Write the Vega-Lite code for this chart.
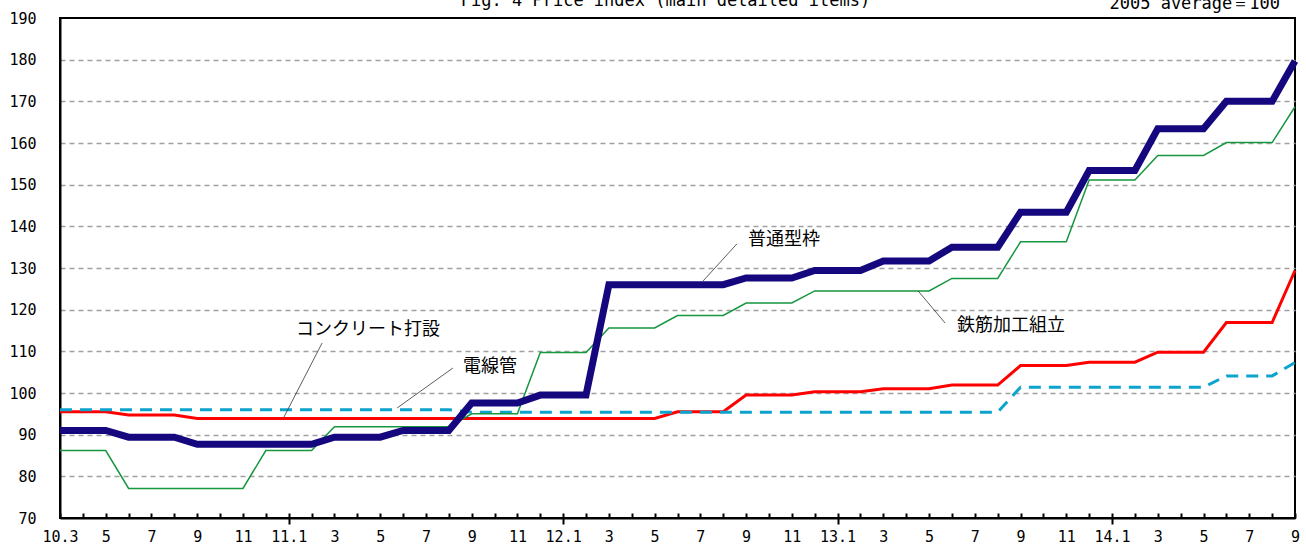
{
  "$schema": "https://vega.github.io/schema/vega-lite/v6.json",
  "width": 1235,
  "height": 500,
  "autosize": {"type": "none"},
  "padding": {"left": 60, "top": 18, "right": 11, "bottom": 30},
  "background": "white",
  "config": {
    "view": {"stroke": "black", "strokeWidth": 2},
    "axis": {"labelColor": "black", "titleColor": "black"}
  },
  "datasets": {
    "lines": [
      {"series": "普通型枠", "t": 0, "v": 91}, {"series": "普通型枠", "t": 1, "v": 91}, {"series": "普通型枠", "t": 2, "v": 91},
      {"series": "普通型枠", "t": 3, "v": 89.4}, {"series": "普通型枠", "t": 4, "v": 89.4}, {"series": "普通型枠", "t": 5, "v": 89.4},
      {"series": "普通型枠", "t": 6, "v": 87.7}, {"series": "普通型枠", "t": 7, "v": 87.7}, {"series": "普通型枠", "t": 8, "v": 87.7},
      {"series": "普通型枠", "t": 9, "v": 87.7}, {"series": "普通型枠", "t": 10, "v": 87.7}, {"series": "普通型枠", "t": 11, "v": 87.7},
      {"series": "普通型枠", "t": 12, "v": 89.4}, {"series": "普通型枠", "t": 13, "v": 89.4}, {"series": "普通型枠", "t": 14, "v": 89.4},
      {"series": "普通型枠", "t": 15, "v": 91}, {"series": "普通型枠", "t": 16, "v": 91}, {"series": "普通型枠", "t": 17, "v": 91},
      {"series": "普通型枠", "t": 18, "v": 97.6}, {"series": "普通型枠", "t": 19, "v": 97.6}, {"series": "普通型枠", "t": 20, "v": 97.6},
      {"series": "普通型枠", "t": 21, "v": 99.5}, {"series": "普通型枠", "t": 22, "v": 99.5}, {"series": "普通型枠", "t": 23, "v": 99.5},
      {"series": "普通型枠", "t": 24, "v": 126}, {"series": "普通型枠", "t": 25, "v": 126}, {"series": "普通型枠", "t": 26, "v": 126},
      {"series": "普通型枠", "t": 27, "v": 126}, {"series": "普通型枠", "t": 28, "v": 126}, {"series": "普通型枠", "t": 29, "v": 126},
      {"series": "普通型枠", "t": 30, "v": 127.6}, {"series": "普通型枠", "t": 31, "v": 127.6}, {"series": "普通型枠", "t": 32, "v": 127.6},
      {"series": "普通型枠", "t": 33, "v": 129.4}, {"series": "普通型枠", "t": 34, "v": 129.4}, {"series": "普通型枠", "t": 35, "v": 129.4},
      {"series": "普通型枠", "t": 36, "v": 131.7}, {"series": "普通型枠", "t": 37, "v": 131.7}, {"series": "普通型枠", "t": 38, "v": 131.7},
      {"series": "普通型枠", "t": 39, "v": 135}, {"series": "普通型枠", "t": 40, "v": 135}, {"series": "普通型枠", "t": 41, "v": 135},
      {"series": "普通型枠", "t": 42, "v": 143.4}, {"series": "普通型枠", "t": 43, "v": 143.4}, {"series": "普通型枠", "t": 44, "v": 143.4},
      {"series": "普通型枠", "t": 45, "v": 153.4}, {"series": "普通型枠", "t": 46, "v": 153.4}, {"series": "普通型枠", "t": 47, "v": 153.4},
      {"series": "普通型枠", "t": 48, "v": 163.4}, {"series": "普通型枠", "t": 49, "v": 163.4}, {"series": "普通型枠", "t": 50, "v": 163.4},
      {"series": "普通型枠", "t": 51, "v": 170}, {"series": "普通型枠", "t": 52, "v": 170}, {"series": "普通型枠", "t": 53, "v": 170},
      {"series": "普通型枠", "t": 54, "v": 179.7},

      {"series": "鉄筋加工組立", "t": 0, "v": 86.2}, {"series": "鉄筋加工組立", "t": 1, "v": 86.2}, {"series": "鉄筋加工組立", "t": 2, "v": 86.2},
      {"series": "鉄筋加工組立", "t": 3, "v": 77.1}, {"series": "鉄筋加工組立", "t": 4, "v": 77.1}, {"series": "鉄筋加工組立", "t": 5, "v": 77.1},
      {"series": "鉄筋加工組立", "t": 6, "v": 77.1}, {"series": "鉄筋加工組立", "t": 7, "v": 77.1}, {"series": "鉄筋加工組立", "t": 8, "v": 77.1},
      {"series": "鉄筋加工組立", "t": 9, "v": 86.2}, {"series": "鉄筋加工組立", "t": 10, "v": 86.2}, {"series": "鉄筋加工組立", "t": 11, "v": 86.2},
      {"series": "鉄筋加工組立", "t": 12, "v": 91.9}, {"series": "鉄筋加工組立", "t": 13, "v": 91.9}, {"series": "鉄筋加工組立", "t": 14, "v": 91.9},
      {"series": "鉄筋加工組立", "t": 15, "v": 91.9}, {"series": "鉄筋加工組立", "t": 16, "v": 91.9}, {"series": "鉄筋加工組立", "t": 17, "v": 91.9},
      {"series": "鉄筋加工組立", "t": 18, "v": 95}, {"series": "鉄筋加工組立", "t": 19, "v": 95}, {"series": "鉄筋加工組立", "t": 20, "v": 95},
      {"series": "鉄筋加工組立", "t": 21, "v": 109.7}, {"series": "鉄筋加工組立", "t": 22, "v": 109.7}, {"series": "鉄筋加工組立", "t": 23, "v": 109.7},
      {"series": "鉄筋加工組立", "t": 24, "v": 115.6}, {"series": "鉄筋加工組立", "t": 25, "v": 115.6}, {"series": "鉄筋加工組立", "t": 26, "v": 115.6},
      {"series": "鉄筋加工組立", "t": 27, "v": 118.6}, {"series": "鉄筋加工組立", "t": 28, "v": 118.6}, {"series": "鉄筋加工組立", "t": 29, "v": 118.6},
      {"series": "鉄筋加工組立", "t": 30, "v": 121.6}, {"series": "鉄筋加工組立", "t": 31, "v": 121.6}, {"series": "鉄筋加工組立", "t": 32, "v": 121.6},
      {"series": "鉄筋加工組立", "t": 33, "v": 124.5}, {"series": "鉄筋加工組立", "t": 34, "v": 124.5}, {"series": "鉄筋加工組立", "t": 35, "v": 124.5},
      {"series": "鉄筋加工組立", "t": 36, "v": 124.5}, {"series": "鉄筋加工組立", "t": 37, "v": 124.5}, {"series": "鉄筋加工組立", "t": 38, "v": 124.5},
      {"series": "鉄筋加工組立", "t": 39, "v": 127.5}, {"series": "鉄筋加工組立", "t": 40, "v": 127.5}, {"series": "鉄筋加工組立", "t": 41, "v": 127.5},
      {"series": "鉄筋加工組立", "t": 42, "v": 136.3}, {"series": "鉄筋加工組立", "t": 43, "v": 136.3}, {"series": "鉄筋加工組立", "t": 44, "v": 136.3},
      {"series": "鉄筋加工組立", "t": 45, "v": 151.1}, {"series": "鉄筋加工組立", "t": 46, "v": 151.1}, {"series": "鉄筋加工組立", "t": 47, "v": 151.1},
      {"series": "鉄筋加工組立", "t": 48, "v": 157}, {"series": "鉄筋加工組立", "t": 49, "v": 157}, {"series": "鉄筋加工組立", "t": 50, "v": 157},
      {"series": "鉄筋加工組立", "t": 51, "v": 160.1}, {"series": "鉄筋加工組立", "t": 52, "v": 160.1}, {"series": "鉄筋加工組立", "t": 53, "v": 160.1},
      {"series": "鉄筋加工組立", "t": 54, "v": 168.7},

      {"series": "コンクリート打設", "t": 0, "v": 95.5}, {"series": "コンクリート打設", "t": 1, "v": 95.5}, {"series": "コンクリート打設", "t": 2, "v": 95.5},
      {"series": "コンクリート打設", "t": 3, "v": 94.7}, {"series": "コンクリート打設", "t": 4, "v": 94.7}, {"series": "コンクリート打設", "t": 5, "v": 94.7},
      {"series": "コンクリート打設", "t": 6, "v": 93.9}, {"series": "コンクリート打設", "t": 7, "v": 93.9}, {"series": "コンクリート打設", "t": 8, "v": 93.9},
      {"series": "コンクリート打設", "t": 9, "v": 93.9}, {"series": "コンクリート打設", "t": 10, "v": 93.9}, {"series": "コンクリート打設", "t": 11, "v": 93.9},
      {"series": "コンクリート打設", "t": 12, "v": 93.9}, {"series": "コンクリート打設", "t": 13, "v": 93.9}, {"series": "コンクリート打設", "t": 14, "v": 93.9},
      {"series": "コンクリート打設", "t": 15, "v": 93.9}, {"series": "コンクリート打設", "t": 16, "v": 93.9}, {"series": "コンクリート打設", "t": 17, "v": 93.9},
      {"series": "コンクリート打設", "t": 18, "v": 93.9}, {"series": "コンクリート打設", "t": 19, "v": 93.9}, {"series": "コンクリート打設", "t": 20, "v": 93.9},
      {"series": "コンクリート打設", "t": 21, "v": 93.9}, {"series": "コンクリート打設", "t": 22, "v": 93.9}, {"series": "コンクリート打設", "t": 23, "v": 93.9},
      {"series": "コンクリート打設", "t": 24, "v": 93.9}, {"series": "コンクリート打設", "t": 25, "v": 93.9}, {"series": "コンクリート打設", "t": 26, "v": 93.9},
      {"series": "コンクリート打設", "t": 27, "v": 95.5}, {"series": "コンクリート打設", "t": 28, "v": 95.5}, {"series": "コンクリート打設", "t": 29, "v": 95.5},
      {"series": "コンクリート打設", "t": 30, "v": 99.5}, {"series": "コンクリート打設", "t": 31, "v": 99.5}, {"series": "コンクリート打設", "t": 32, "v": 99.5},
      {"series": "コンクリート打設", "t": 33, "v": 100.3}, {"series": "コンクリート打設", "t": 34, "v": 100.3}, {"series": "コンクリート打設", "t": 35, "v": 100.3},
      {"series": "コンクリート打設", "t": 36, "v": 101}, {"series": "コンクリート打設", "t": 37, "v": 101}, {"series": "コンクリート打設", "t": 38, "v": 101},
      {"series": "コンクリート打設", "t": 39, "v": 101.9}, {"series": "コンクリート打設", "t": 40, "v": 101.9}, {"series": "コンクリート打設", "t": 41, "v": 101.9},
      {"series": "コンクリート打設", "t": 42, "v": 106.6}, {"series": "コンクリート打設", "t": 43, "v": 106.6}, {"series": "コンクリート打設", "t": 44, "v": 106.6},
      {"series": "コンクリート打設", "t": 45, "v": 107.4}, {"series": "コンクリート打設", "t": 46, "v": 107.4}, {"series": "コンクリート打設", "t": 47, "v": 107.4},
      {"series": "コンクリート打設", "t": 48, "v": 109.8}, {"series": "コンクリート打設", "t": 49, "v": 109.8}, {"series": "コンクリート打設", "t": 50, "v": 109.8},
      {"series": "コンクリート打設", "t": 51, "v": 116.9}, {"series": "コンクリート打設", "t": 52, "v": 116.9}, {"series": "コンクリート打設", "t": 53, "v": 116.9},
      {"series": "コンクリート打設", "t": 54, "v": 129.4},

      {"series": "電線管", "t": 0, "v": 96}, {"series": "電線管", "t": 1, "v": 96}, {"series": "電線管", "t": 2, "v": 96},
      {"series": "電線管", "t": 3, "v": 96}, {"series": "電線管", "t": 4, "v": 96}, {"series": "電線管", "t": 5, "v": 96},
      {"series": "電線管", "t": 6, "v": 96}, {"series": "電線管", "t": 7, "v": 96}, {"series": "電線管", "t": 8, "v": 96},
      {"series": "電線管", "t": 9, "v": 96}, {"series": "電線管", "t": 10, "v": 96}, {"series": "電線管", "t": 11, "v": 96},
      {"series": "電線管", "t": 12, "v": 96}, {"series": "電線管", "t": 13, "v": 96}, {"series": "電線管", "t": 14, "v": 96},
      {"series": "電線管", "t": 15, "v": 96}, {"series": "電線管", "t": 16, "v": 96}, {"series": "電線管", "t": 17, "v": 96},
      {"series": "電線管", "t": 18, "v": 95.4}, {"series": "電線管", "t": 19, "v": 95.4}, {"series": "電線管", "t": 20, "v": 95.4},
      {"series": "電線管", "t": 21, "v": 95.4}, {"series": "電線管", "t": 22, "v": 95.4}, {"series": "電線管", "t": 23, "v": 95.4},
      {"series": "電線管", "t": 24, "v": 95.4}, {"series": "電線管", "t": 25, "v": 95.4}, {"series": "電線管", "t": 26, "v": 95.4},
      {"series": "電線管", "t": 27, "v": 95.4}, {"series": "電線管", "t": 28, "v": 95.4}, {"series": "電線管", "t": 29, "v": 95.4},
      {"series": "電線管", "t": 30, "v": 95.4}, {"series": "電線管", "t": 31, "v": 95.4}, {"series": "電線管", "t": 32, "v": 95.4},
      {"series": "電線管", "t": 33, "v": 95.4}, {"series": "電線管", "t": 34, "v": 95.4}, {"series": "電線管", "t": 35, "v": 95.4},
      {"series": "電線管", "t": 36, "v": 95.4}, {"series": "電線管", "t": 37, "v": 95.4}, {"series": "電線管", "t": 38, "v": 95.4},
      {"series": "電線管", "t": 39, "v": 95.4}, {"series": "電線管", "t": 40, "v": 95.4}, {"series": "電線管", "t": 41, "v": 95.4},
      {"series": "電線管", "t": 42, "v": 101.4}, {"series": "電線管", "t": 43, "v": 101.4}, {"series": "電線管", "t": 44, "v": 101.4},
      {"series": "電線管", "t": 45, "v": 101.4}, {"series": "電線管", "t": 46, "v": 101.4}, {"series": "電線管", "t": 47, "v": 101.4},
      {"series": "電線管", "t": 48, "v": 101.4}, {"series": "電線管", "t": 49, "v": 101.4}, {"series": "電線管", "t": 50, "v": 101.4},
      {"series": "電線管", "t": 51, "v": 104.1}, {"series": "電線管", "t": 52, "v": 104.1}, {"series": "電線管", "t": 53, "v": 104.1},
      {"series": "電線管", "t": 54, "v": 107.3}
    ],
    "labels": [
      {"label": "コンクリート打設", "t": 13.47, "v": 115.1},
      {"label": "電線管", "t": 18.8, "v": 106.2},
      {"label": "普通型枠", "t": 31.66, "v": 136.7},
      {"label": "鉄筋加工組立", "t": 41.58, "v": 116.1}
    ],
    "leaders": [
      {"label": "コンクリート打設", "t1": 11.46, "v1": 112.0, "t2": 9.79, "v2": 94.2},
      {"label": "電線管", "t1": 17.18, "v1": 106.0, "t2": 14.74, "v2": 96.4},
      {"label": "普通型枠", "t1": 29.6, "v1": 135.8, "t2": 28.12, "v2": 126.9},
      {"label": "鉄筋加工組立", "t1": 37.52, "v1": 124.5, "t2": 38.7, "v2": 116.8}
    ],
    "note": [
      {"label": "2005 average＝100", "t": 54, "v": 190}
    ],
    "heading": [
      {"label": "Fig. 4 Price index (main detailed items)", "t": 27, "v": 190}
    ]
  },
  "resolve": {"axis": {"x": "independent", "y": "independent"}},
  "layer": [
    {
      "data": {"name": "lines"},
      "transform": [{"filter": "datum.series == 'コンクリート打設'"}],
      "mark": {"type": "line", "color": "#ff0000", "strokeWidth": 3, "strokeJoin": "miter"},
      "encoding": {
        "x": {
          "field": "t", "type": "quantitative",
          "scale": {"domain": [0, 54], "nice": false, "zero": false},
          "axis": {
            "orient": "bottom",
            "title": null,
            "values": [0, 2, 4, 6, 8, 10, 12, 14, 16, 18, 20, 22, 24, 26, 28, 30, 32, 34, 36, 38, 40, 42, 44, 46, 48, 50, 52, 54],
            "labelExpr": "datum.value == 0 ? '10.3' : ((datum.value + 2) % 12 == 0 ? (10 + floor((datum.value + 2) / 12)) + '.1' : ((datum.value + 2) % 12 + 1) + '')",
            "ticks": false,
            "grid": false,
            "domain": true,
            "domainColor": "black",
            "domainWidth": 2,
            "labelFont": "DejaVu Sans Mono",
            "labelFontSize": 15,
            "labelPadding": 11,
            "labelFlush": false,
            "labelOverlap": false
          }
        },
        "y": {
          "field": "v", "type": "quantitative",
          "scale": {"domain": [70, 190], "nice": false, "zero": false},
          "axis": {
            "orient": "left",
            "title": null,
            "values": [70, 80, 90, 100, 110, 120, 130, 140, 150, 160, 170, 180, 190],
            "ticks": false,
            "grid": true,
            "gridColor": "#a0a0a0",
            "gridDash": [5, 4],
            "gridWidth": 1.5,
            "gridOpacity": {"condition": {"test": "datum.value == 70 || datum.value == 190", "value": 0}, "value": 1},
            "domain": true,
            "domainColor": "black",
            "domainWidth": 2,
            "labelFont": "DejaVu Sans Mono",
            "labelFontSize": 15,
            "labelPadding": 24,
            "labelFlush": false,
            "labelOverlap": false
          }
        }
      }
    },
    {
      "data": {"name": "lines"},
      "transform": [{"filter": "datum.series == '電線管'"}],
      "mark": {"type": "line", "color": "#0ca3cc", "strokeWidth": 3, "strokeDash": [12, 8]},
      "encoding": {
        "x": {"field": "t", "type": "quantitative", "axis": null},
        "y": {"field": "v", "type": "quantitative", "axis": null}
      }
    },
    {
      "data": {"name": "lines"},
      "transform": [{"filter": "datum.series == '鉄筋加工組立'"}],
      "mark": {"type": "line", "color": "#15963f", "strokeWidth": 1.5},
      "encoding": {
        "x": {"field": "t", "type": "quantitative", "axis": null},
        "y": {"field": "v", "type": "quantitative", "axis": null}
      }
    },
    {
      "data": {"name": "lines"},
      "transform": [{"filter": "datum.series == '普通型枠'"}],
      "mark": {"type": "line", "color": "#15087f", "strokeWidth": 7, "strokeJoin": "miter"},
      "encoding": {
        "x": {"field": "t", "type": "quantitative", "axis": null},
        "y": {"field": "v", "type": "quantitative", "axis": null}
      }
    },
    {
      "data": {"name": "leaders"},
      "mark": {"type": "rule", "color": "#333333", "strokeWidth": 0.8},
      "encoding": {
        "x": {
          "field": "t1", "type": "quantitative",
          "axis": {
            "orient": "bottom",
            "offset": -5,
            "title": null,
            "values": [0, 1, 2, 3, 4, 5, 6, 7, 8, 9, 10, 11, 12, 13, 14, 15, 16, 17, 18, 19, 20, 21, 22, 23, 24, 25, 26, 27, 28, 29, 30, 31, 32, 33, 34, 35, 36, 37, 38, 39, 40, 41, 42, 43, 44, 45, 46, 47, 48, 49, 50, 51, 52, 53, 54],
            "labels": false,
            "domain": false,
            "grid": false,
            "ticks": true,
            "tickSize": 5,
            "tickWidth": 2,
            "tickColor": "black"
          }
        },
        "x2": {"field": "t2"},
        "y": {"field": "v1", "type": "quantitative", "axis": null},
        "y2": {"field": "v2"}
      }
    },
    {
      "data": {"name": "labels"},
      "mark": {"type": "text", "font": "Noto Sans CJK JP", "fontSize": 18, "align": "center", "baseline": "middle", "color": "black"},
      "encoding": {
        "x": {
          "field": "t", "type": "quantitative",
          "axis": {
            "orient": "bottom",
            "title": null,
            "values": [10, 22, 34, 46],
            "labels": false,
            "domain": false,
            "grid": false,
            "ticks": true,
            "tickSize": 6,
            "tickWidth": 2,
            "tickColor": "black"
          }
        },
        "y": {"field": "v", "type": "quantitative", "axis": null},
        "text": {"field": "label"}
      }
    },
    {
      "data": {"name": "note"},
      "mark": {"type": "text", "font": "DejaVu Sans Mono", "fontSize": 17, "align": "right", "baseline": "alphabetic", "dx": -15, "dy": -9, "color": "black"},
      "encoding": {
        "x": {"field": "t", "type": "quantitative", "axis": null},
        "y": {"field": "v", "type": "quantitative", "axis": null},
        "text": {"field": "label"}
      }
    },
    {
      "data": {"name": "heading"},
      "mark": {"type": "text", "font": "DejaVu Sans Mono", "fontSize": 17, "align": "center", "baseline": "alphabetic", "dx": -12, "dy": -12, "color": "black"},
      "encoding": {
        "x": {"field": "t", "type": "quantitative", "axis": null},
        "y": {"field": "v", "type": "quantitative", "axis": null},
        "text": {"field": "label"}
      }
    }
  ]
}
